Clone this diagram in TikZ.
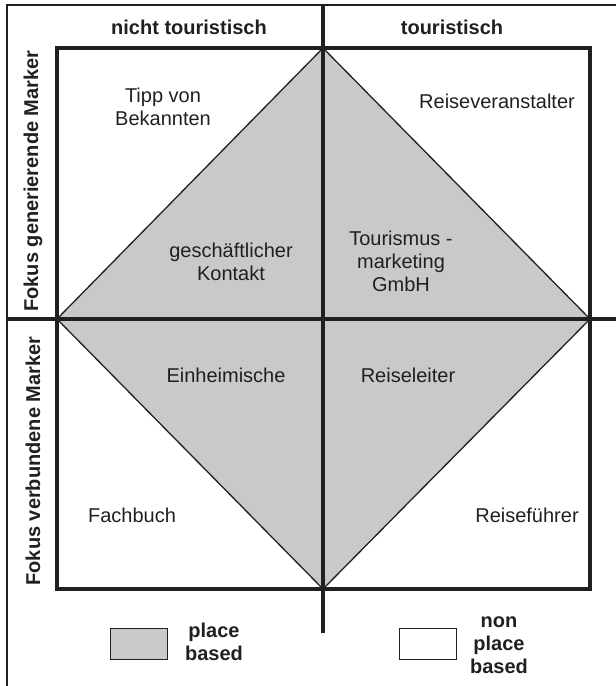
\documentclass[tikz,border=0pt]{standalone}
\usepackage{fontspec}
\setmainfont{Liberation Sans}
\begin{document}
\begin{tikzpicture}[x=1pt,y=-1pt,
  ink/.style={draw=inkc},
  lbl/.style={text=inkc,align=center,inner sep=0pt,font=\fontsize{20}{23}\selectfont},
  blbl/.style={lbl,font=\fontsize{20}{23}\selectfont\bfseries},
  keybox/.style={draw=inkc,line width=1.8pt,minimum width=57pt,minimum height=31pt,inner sep=0pt}]
\definecolor{inkc}{HTML}{231F20}
\definecolor{placegray}{HTML}{C8C9CB}
\useasboundingbox (0,0) rectangle (616,686);
\clip (0,0) rectangle (616,686);

% outer frame (open to the right and below)
\draw[ink,line width=1.8pt] (630,5) -- (7,5) -- (7,700);

% corner coordinates of the matrix
\coordinate (T) at (323,48);
\coordinate (R) at (590,319);
\coordinate (B) at (323,589);
\coordinate (L) at (57,319);

% place based diamond
\fill[fill=placegray] (T) -- (R) -- (B) -- (L) -- cycle;
\draw[ink,line width=1.3pt,line join=miter] (T) -- (R) -- (B) -- (L) -- cycle;

% square frame
\draw[ink,line width=3.6pt] (57,48) rectangle (590,589);

% axes
\draw[ink,line width=3.6pt] (323,5) -- (323,633);
\draw[ink,line width=3.6pt] (7,319) -- (620,319);

% column headings
\node[blbl] (hnt) at (189,27) {nicht touristisch};
\node[blbl] (ht) at (452,27) {touristisch};

% row headings
\node[blbl,rotate=90] (hgen) at (33,181) {Fokus generierende Marker};
\node[blbl,rotate=90] (hverb) at (33,461) {Fokus verbundene Marker};

% entries
\node[lbl] (tipp) at (163,107) {Tipp von\\Bekannten};
\node[lbl] (rv) at (497,101) {Reiseveranstalter};
\node[lbl] (gk) at (231,262) {geschäftlicher\\Kontakt};
\node[lbl] (tm) at (401,261) {Tourismus -\\marketing\\GmbH};
\node[lbl] (eh) at (226,375) {Einheimische};
\node[lbl] (rl) at (408,375) {Reiseleiter};
\node[lbl] (fb) at (132,515) {Fachbuch};
\node[lbl] (rf) at (527,515) {Reiseführer};

% legend
\node[keybox,fill=placegray] (kpb) at (139,644) {};
\node[blbl] (tpb) at (214,642) {place\\based};
\node[keybox,fill=white] (knpb) at (428,644) {};
\node[blbl] (tnpb) at (499,645) {non\\place\\based};
\end{tikzpicture}
\end{document}
